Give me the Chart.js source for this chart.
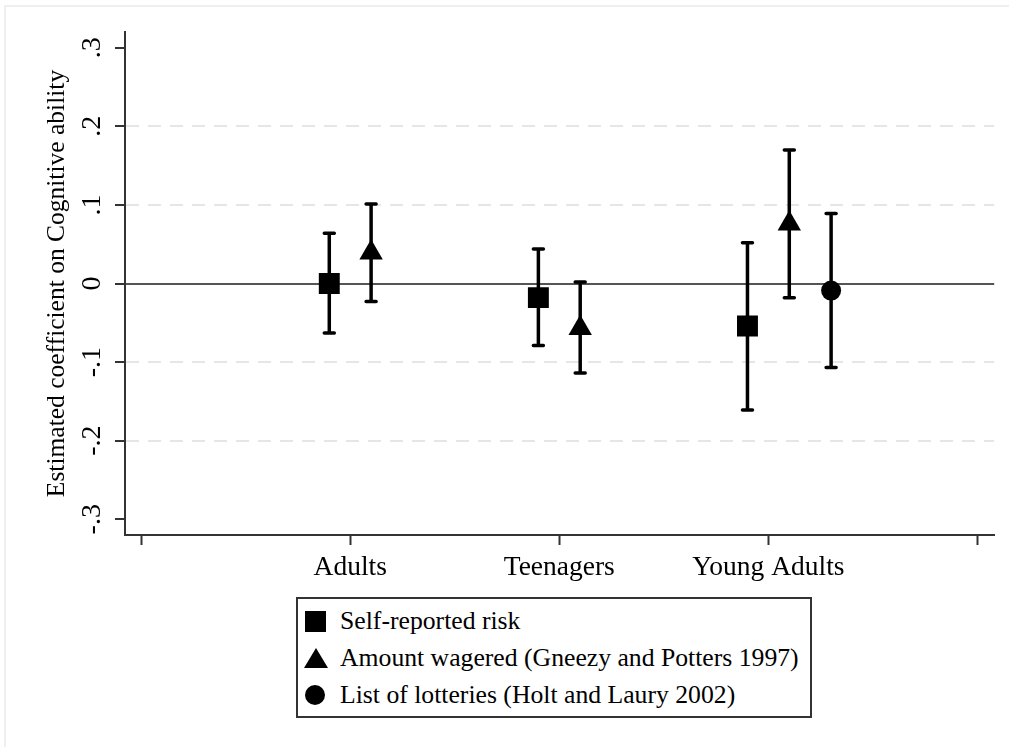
<!DOCTYPE html>
<html>
<head>
<meta charset="utf-8">
<script src="https://cdn.jsdelivr.net/npm/chart.js@4"></script>
<style>
  html, body { margin: 0; padding: 0; background: #fff; }
  #wrap { position: relative; width: 1009px; height: 747px; overflow: hidden; font-family: "Liberation Serif", "DejaVu Serif", serif; }
  #frame { position: absolute; left: 4px; top: 5px; right: -10px; bottom: -10px; border-top: 2px solid #efefef; border-left: 2px solid #efefef; }
  #chart { position: absolute; left: 0; top: 0; }
  #legend { position: absolute; box-sizing: border-box; left: 296px; top: 597px; width: 516px; height: 121px; border: 2px solid #333; background: #fff; }
  .row { position: absolute; left: 0; height: 30px; line-height: 30px; font-size: 25.7px; color: #000; white-space: nowrap; }
  .row span.txt { position: absolute; left: 42px; top: 0; }
  .mk { position: absolute; }
  .mk.rect { left: 7px; top: 5px; width: 21px; height: 21px; background: #000; }
  .mk.triangle { left: 6px; top: 5px; width: 0; height: 0; border-left: 12px solid transparent; border-right: 12px solid transparent; border-bottom: 20px solid #000; }
  .mk.circle { left: 7px; top: 5px; width: 20px; height: 20px; border-radius: 50%; background: #000; }
</style>
</head>
<body>
<div id="wrap">
  <div id="frame"></div>
  <canvas id="chart" width="1009" height="747"></canvas>
  <div id="legend"></div>
</div>
<script>
// -----------------------------------------
// DATA
// -----------------------------------------
const groups      = ['Adults', 'Teenagers', 'Young Adults'];
const xTicks      = [0, 1, 2, 3, 4];
const xTickLabels = ['', 'Adults', 'Teenagers', 'Young Adults', ''];
const yTicks      = [-0.3, -0.2, -0.1, 0, 0.1, 0.2, 0.3];
const yTickLabels = ['-.3', '-.2', '-.1', '0', '.1', '.2', '.3'];

const seriesNames = [
  'Self-reported risk',
  'Amount wagered (Gneezy and Potters 1997)',
  'List of lotteries (Holt and Laury 2002)'
];

// point estimates and 95% bounds, one value per group
const selfRiskEst  = [0.000, -0.018, -0.054];
const selfRiskLo   = [-0.063, -0.079, -0.161];
const selfRiskHi   = [0.064, 0.044, 0.052];

const wageredEst   = [0.039, -0.057, 0.076];
const wageredLo    = [-0.023, -0.114, -0.018];
const wageredHi    = [0.101, 0.002, 0.170];

const lotteryEst   = [null, null, -0.009];
const lotteryLo    = [null, null, -0.107];
const lotteryHi    = [null, null, 0.089];

// -----------------------------------------
// Build datasets
// -----------------------------------------
const SERIES = [
  { est: selfRiskEst, lo: selfRiskLo, hi: selfRiskHi, shape: 'rect',     radius: 14.8, shift: -0.1 },
  { est: wageredEst,  lo: wageredLo,  hi: wageredHi,  shape: 'triangle', radius: 13.5, shift: 0.1 },
  { est: lotteryEst,  lo: lotteryLo,  hi: lotteryHi,  shape: 'circle',   radius: 10,   shift: 0.3 }
];

function makePoints(s) {
  const pts = [];
  groups.forEach((g, i) => {
    if (s.est[i] === null) return;
    pts.push({ x: i + 1 + s.shift, y: s.est[i], lo: s.lo[i], hi: s.hi[i] });
  });
  return pts;
}

const datasets = SERIES.map((s, i) => ({
  label: seriesNames[i],
  data: makePoints(s),
  pointStyle: s.shape,
  pointRadius: s.radius,
  pointHoverRadius: s.radius,
  pointBorderWidth: 0,
  backgroundColor: '#000',
  borderColor: '#000'
}));

// -----------------------------------------
// Error bars (drawn under the markers)
// -----------------------------------------
const errorBars = {
  id: 'errorBars',
  beforeDatasetsDraw(chart) {
    const { ctx, scales: { x, y } } = chart;
    ctx.save();
    ctx.strokeStyle = '#000';
    ctx.lineWidth = 3.5;
    chart.data.datasets.forEach(ds => {
      ds.data.forEach(p => {
        const px = x.getPixelForValue(p.x);
        const yl = y.getPixelForValue(p.lo);
        const yh = y.getPixelForValue(p.hi);
        ctx.lineCap = 'butt';
        ctx.beginPath();
        ctx.moveTo(px, yl);
        ctx.lineTo(px, yh);
        ctx.stroke();
        ctx.lineCap = 'round';
        ctx.beginPath();
        ctx.moveTo(px - 5, yl); ctx.lineTo(px + 5, yl);
        ctx.moveTo(px - 5, yh); ctx.lineTo(px + 5, yh);
        ctx.stroke();
      });
    });
    ctx.restore();
  }
};

const FONT = '"Liberation Serif", "DejaVu Serif", serif';

new Chart(document.getElementById('chart'), {
  type: 'scatter',
  data: { datasets },
  options: {
    responsive: false,
    devicePixelRatio: 1,
    animation: false,
    layout: { padding: { top: 32, right: 14, left: 0, bottom: 0 } },
    plugins: {
      legend: { display: false },
      tooltip: { enabled: false }
    },
    scales: {
      x: {
        type: 'linear',
        position: 'bottom',
        min: -0.077,
        max: 4.08,
        afterFit: s => { s.height = 212; },
        afterBuildTicks: s => { s.ticks = xTicks.map(v => ({ value: v })); },
        grid: {
          drawOnChartArea: false,
          drawTicks: true,
          tickLength: 10,
          tickWidth: 2,
          tickColor: '#333'
        },
        border: { color: '#333', width: 2 },
        ticks: {
          autoSkip: false,
          maxRotation: 0,
          padding: 6,
          color: '#000',
          font: { family: FONT, size: 27.5 },
          callback: (v, i) => xTickLabels[i]
        }
      },
      y: {
        min: -0.32,
        max: 0.32,
        afterFit: s => { s.width = 125; },
        afterBuildTicks: s => { s.ticks = yTicks.map(v => ({ value: v })); },
        grid: {
          color: c => {
            const v = c.tick ? c.tick.value : null;
            if (v === 0) return '#555';
            if (v !== null && Math.abs(v) < 0.25) return '#e6e6e6';
            return 'rgba(0,0,0,0)';
          },
          lineWidth: 2,
          drawTicks: true,
          tickLength: 10,
          tickWidth: 2,
          tickColor: '#333'
        },
        border: {
          color: '#333',
          width: 2,
          dash: c => (c.tick && c.tick.value !== 0 ? [13, 9] : [])
        },
        ticks: {
          autoSkip: false,
          minRotation: 90,
          maxRotation: 90,
          crossAlign: 'center',
          padding: 7,
          color: '#000',
          font: { family: FONT, size: 28 },
          callback: (v, i) => yTickLabels[i]
        },
        title: {
          display: true,
          text: 'Estimated coefficient on Cognitive ability',
          color: '#000',
          font: { family: FONT, size: 25.5, lineHeight: 1 },
          padding: { top: 45, bottom: 0 }
        }
      }
    }
  },
  plugins: [errorBars]
});

// -----------------------------------------
// HTML legend (boxed, one entry per row)
// -----------------------------------------
const legendRows = [621, 658, 695];
const legendEl = document.getElementById('legend');
legendEl.innerHTML = SERIES.map((s, i) => `
  <div class="row" style="top:${legendRows[i] - 15 - 599}px">
    <div class="mk ${s.shape}"></div>
    <span class="txt">${seriesNames[i]}</span>
  </div>
`).join('');
</script>
</body>
</html>
